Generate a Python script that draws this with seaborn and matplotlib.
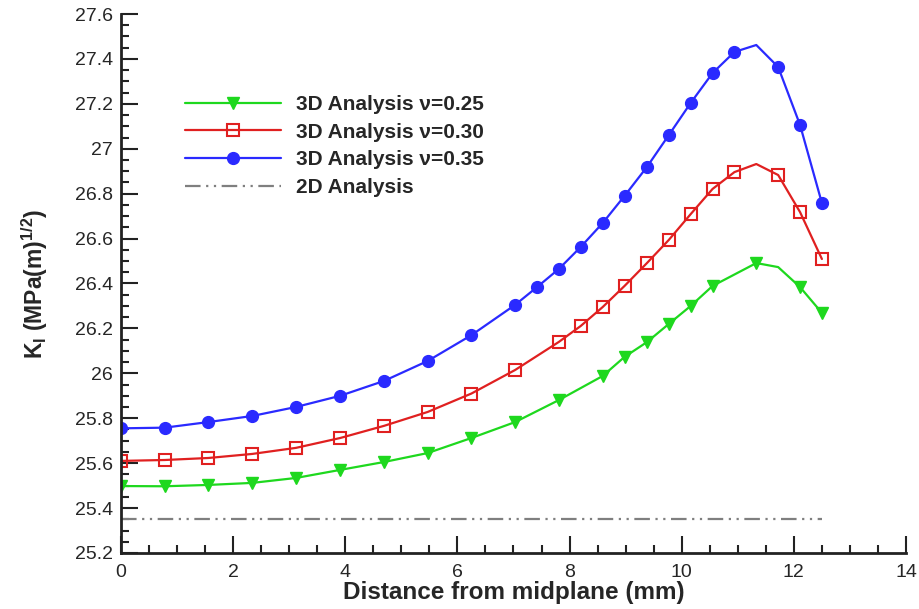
import matplotlib
matplotlib.use("Agg")
import matplotlib.pyplot as plt
from matplotlib.ticker import MultipleLocator, FixedLocator, FixedFormatter
import seaborn as sns

# Stress intensity factor K_I along the crack front (distance from midplane, mm)
x_nu025 = [0.0, 0.78, 1.56, 2.34, 3.12, 3.91, 4.69, 5.47, 6.25, 7.03,
           7.81, 8.59, 8.98, 9.38, 9.77, 10.16, 10.55, 11.33, 11.72, 12.11, 12.5]
k_nu025 = [25.498, 25.497, 25.503, 25.512, 25.534, 25.57, 25.605, 25.645, 25.712, 25.783,
           25.881, 25.988, 26.073, 26.139, 26.22, 26.30, 26.389, 26.491, 26.473, 26.384, 26.269]

x_nu030 = [0.0, 0.78, 1.56, 2.34, 3.12, 3.91, 4.69, 5.47, 6.25, 7.03,
           7.81, 8.20, 8.59, 8.98, 9.38, 9.77, 10.16, 10.55, 10.94, 11.33, 11.72, 12.11, 12.5]
k_nu030 = [25.61, 25.614, 25.623, 25.641, 25.668, 25.712, 25.766, 25.828, 25.91, 26.015,
           26.14, 26.211, 26.295, 26.389, 26.491, 26.594, 26.709, 26.821, 26.896, 26.932,
           26.883, 26.718, 26.509]

x_nu035 = [0.0, 0.78, 1.56, 2.34, 3.12, 3.91, 4.69, 5.47, 6.25, 7.03, 7.42,
           7.81, 8.20, 8.59, 8.98, 9.38, 9.77, 10.16, 10.55, 10.94, 11.33, 11.72, 12.11, 12.5]
k_nu035 = [25.755, 25.758, 25.783, 25.81, 25.85, 25.90, 25.966, 26.055, 26.17, 26.305, 26.384,
           26.465, 26.563, 26.669, 26.79, 26.919, 27.061, 27.204, 27.337, 27.431, 27.462,
           27.364, 27.106, 26.758]

# Curve vertices drawn without a symbol
plain_nu025 = [11.72]
plain_nu030 = [11.33]
plain_nu035 = [11.33]

x_2d = [0.0, 12.5]
k_2d = [25.35, 25.35]

labels = ["3D Analysis \u03bd=0.25", "3D Analysis \u03bd=0.30",
          "3D Analysis \u03bd=0.35", "2D Analysis"]

x_ticks = [0, 2, 4, 6, 8, 10, 12, 14]
y_ticks = [25.2, 25.4, 25.6, 25.8, 26.0, 26.2, 26.4, 26.6, 26.8, 27.0, 27.2, 27.4, 27.6]

sns.set_style("ticks")
plt.rcParams["font.family"] = ["Liberation Sans", "DejaVu Sans"]
plt.rcParams["mathtext.fontset"] = "custom"
plt.rcParams["mathtext.rm"] = "Liberation Sans"
plt.rcParams["mathtext.bf"] = "Liberation Sans:bold"

fig = plt.figure(figsize=(9.2, 6.09), dpi=100)
ax = fig.add_axes([0.1315, 0.092, 0.8533, 0.885])


def marked(xs, plain):
    return [i for i, v in enumerate(xs) if v not in plain]


green, red, blue = "#1ed81e", "#e02020", "#2a2aff"

sns.lineplot(x=x_nu025, y=k_nu025, ax=ax, color=green, lw=1.6, sort=False,
             marker="v", markevery=marked(x_nu025, plain_nu025), markersize=9,
             markeredgecolor=green, markerfacecolor=green, markeredgewidth=1,
             label=labels[0])
sns.lineplot(x=x_nu030, y=k_nu030, ax=ax, color=red, lw=1.6, sort=False,
             marker="s", markevery=marked(x_nu030, plain_nu030), markersize=8.5,
             markeredgecolor=red, markerfacecolor="none", markeredgewidth=1.5,
             label=labels[1])
sns.lineplot(x=x_nu035, y=k_nu035, ax=ax, color=blue, lw=1.6, sort=False,
             marker="o", markevery=marked(x_nu035, plain_nu035), markersize=8.5,
             markeredgecolor=blue, markerfacecolor=blue, markeredgewidth=1,
             label=labels[2])
sns.lineplot(x=x_2d, y=k_2d, ax=ax, color="#7f7f7f", lw=1.6, sort=False,
             label=labels[3])
ax.lines[-1].set_dashes([7, 2.5, 1, 2.5, 1, 2.5])

ax.set_xlim(0, 14)
ax.set_ylim(25.2, 27.6)
ax.xaxis.set_major_locator(FixedLocator(x_ticks))
ax.xaxis.set_major_formatter(FixedFormatter([f"{v:g}" for v in x_ticks]))
ax.xaxis.set_minor_locator(MultipleLocator(0.5))
ax.yaxis.set_major_locator(FixedLocator(y_ticks))
ax.yaxis.set_major_formatter(FixedFormatter([f"{v:g}" for v in y_ticks]))
ax.yaxis.set_minor_locator(MultipleLocator(0.05))

ax.tick_params(which="major", direction="in", length=12, width=1.5,
               labelsize=14, pad=6, color="#222222")
ax.tick_params(axis="x", which="major", pad=8)
ax.tick_params(which="minor", direction="in", length=6, width=1.5, color="#222222")
for side in ("top", "right"):
    ax.spines[side].set_visible(False)
for side in ("left", "bottom"):
    ax.spines[side].set_linewidth(2)
    ax.spines[side].set_color("#222222")

ax.set_xlabel("Distance from midplane (mm)", fontsize=17.5, fontweight="bold", labelpad=0)
ax.set_ylabel(r"$\mathbf{K_I}$ (MPa(m)$^{\mathbf{1/2}}$)", fontsize=16.5,
              fontweight="bold", labelpad=18)

leg = ax.legend(loc="upper left", bbox_to_anchor=(0.0815, 0.85), frameon=False,
                handlelength=4.6, handletextpad=0.75, labelspacing=0.42,
                borderpad=0, borderaxespad=0, numpoints=1,
                prop={"size": 15, "weight": "bold"})

fig.savefig("out.png", dpi=100)
